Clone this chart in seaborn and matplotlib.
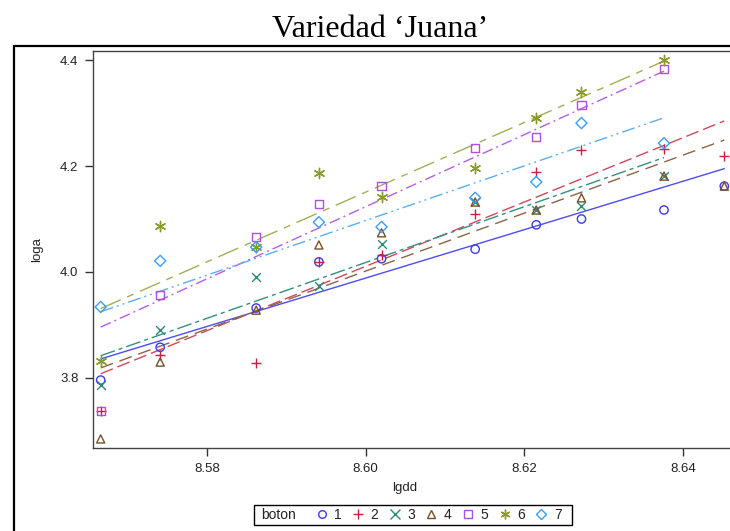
import numpy as np
import pandas as pd
import matplotlib
matplotlib.use("Agg")
import matplotlib.pyplot as plt
from matplotlib.lines import Line2D
from matplotlib.patches import Rectangle
import seaborn as sns

# ---------------- data ----------------
lgdd = [8.5666, 8.5741, 8.5862, 8.5941, 8.6020, 8.6138, 8.6215, 8.6272, 8.6376, 8.6452]
boton_ids = ["1", "2", "3", "4", "5", "6", "7"]
loga_1 = [3.796, 3.858, 3.932, 4.019, 4.025, 4.043, 4.089, 4.100, 4.117, 4.162]
loga_2 = [3.738, 3.843, 3.828, 4.019, 4.032, 4.109, 4.189, 4.230, 4.232, 4.219]
loga_3 = [3.787, 3.891, 3.991, 3.974, 4.053, 4.132, 4.117, 4.125, 4.181, None]
loga_4 = [3.685, 3.830, 3.928, 4.051, 4.074, 4.132, 4.117, 4.140, 4.181, 4.162]
loga_5 = [3.738, 3.957, 4.066, 4.128, 4.162, 4.234, 4.255, 4.315, 4.383, None]
loga_6 = [3.832, 4.087, 4.047, 4.187, 4.142, 4.196, 4.291, 4.340, 4.400, None]
loga_7 = [3.934, 4.021, 4.047, 4.094, 4.085, 4.140, 4.170, 4.281, 4.243, None]
series = [loga_1, loga_2, loga_3, loga_4, loga_5, loga_6, loga_7]

# fitted model lines at first / last lgdd of each boton
fit_x_start = [8.5666, 8.5666, 8.5666, 8.5666, 8.5666, 8.5666, 8.5666]
fit_x_end   = [8.6452, 8.6452, 8.6376, 8.6452, 8.6376, 8.6376, 8.6376]
fit_y_start = [3.836, 3.808, 3.842, 3.819, 3.896, 3.931, 3.925]
fit_y_end   = [4.195, 4.285, 4.216, 4.249, 4.379, 4.398, 4.291]

x_ticks = [8.58, 8.60, 8.62, 8.64]
y_ticks = [3.8, 4.0, 4.2, 4.4]

rows = []
for b, vals in zip(boton_ids, series):
    for xv, yv in zip(lgdd, vals):
        if yv is not None:
            rows.append({"boton": b, "lgdd": xv, "loga": yv})
df = pd.DataFrame(rows)

fit_rows = []
for b, x0, x1, y0, y1 in zip(boton_ids, fit_x_start, fit_x_end, fit_y_start, fit_y_end):
    fit_rows.append({"boton": b, "lgdd": x0, "loga": y0})
    fit_rows.append({"boton": b, "lgdd": x1, "loga": y1})
fit_df = pd.DataFrame(fit_rows)

# ---------------- style ----------------
sns.set_style("white")
plt.rcParams["font.family"] = ["Liberation Sans", "DejaVu Sans"]

marker_col = {"1": "#3b3be6", "2": "#cc1f3f", "3": "#2a8a7a", "4": "#7a4f28",
              "5": "#ad4ee6", "6": "#8a9a2a", "7": "#3a9ef0"}
line_col = {"1": "#4d4df0", "2": "#d04858", "3": "#33907f", "4": "#8a6545",
            "5": "#b35ee6", "6": "#a3ae55", "7": "#5aaef0"}
markers = {"1": "o", "2": "+", "3": "x", "4": "^", "5": "s", "6": (6, 2, 0), "7": "D"}
filled = {"1": True, "2": False, "3": False, "4": True, "5": True, "6": False, "7": True}
msize = {"1": 36, "2": 55, "3": 40, "4": 34, "5": 36, "6": 55, "7": 32}
dashes = {"1": "-",
          "2": (0, (9.4, 3.6)),
          "3": (0, (10.8, 2.9, 2.9, 2.9)),
          "4": (0, (9.4, 5.0)),
          "5": (0, (7.9, 2.9, 1.4, 2.9)),
          "6": (0, (15.8, 5.0, 5.0, 5.0)),
          "7": (0, (9.4, 2.9, 1.4, 2.9, 1.4, 2.9))}

fig = plt.figure(figsize=(7.30, 5.31), dpi=100)
ax = fig.add_axes([93 / 730, 83 / 531, 642 / 730, 397 / 531])

for b in boton_ids:
    sub = fit_df[fit_df["boton"] == b]
    sns.lineplot(data=sub, x="lgdd", y="loga", color=line_col[b], lw=1.0,
                 linestyle=dashes[b], ax=ax, zorder=2)
for b in boton_ids:
    sub = df[df["boton"] == b]
    if filled[b]:
        sns.scatterplot(data=sub, x="lgdd", y="loga", marker=markers[b], s=msize[b],
                        facecolor="none", edgecolor=marker_col[b], linewidth=1.0, ax=ax, zorder=3)
    else:
        sns.scatterplot(data=sub, x="lgdd", y="loga", marker=markers[b], s=msize[b],
                        color=marker_col[b], linewidth=1.0, ax=ax, zorder=3)

ax.set_xlim(8.56563, 8.64655)
ax.set_ylim(3.6679, 4.417)
ax.set_xticks(x_ticks)
ax.set_xticklabels([f"{v:.2f}" for v in x_ticks])
ax.set_yticks(y_ticks)
ax.set_yticklabels([f"{v:.1f}" for v in y_ticks])
ax.tick_params(direction="out", length=6, width=1, color="#333333", pad=4.5,
               labelsize=9.5, labelcolor="#222222", left=True, bottom=True)
for s in ax.spines.values():
    s.set_color("#444444")
    s.set_linewidth(1.0)
ax.set_xlabel("lgdd", fontsize=9.5, color="#222222")
ax.set_ylabel("loga", fontsize=9.5, color="#222222")
ax.xaxis.set_label_coords((405 - 93) / 642, -0.085)
ax.yaxis.set_label_coords(-0.077, 0.5)

# outer frame
fig.patches.append(Rectangle((14 / 730, -0.05), 1.2, (531 - 46) / 531 + 0.05,
                             transform=fig.transFigure, fill=False, edgecolor="black",
                             linewidth=1.6, zorder=0))

# title
fig.text(380 / 730, (531 - 37) / 531, "Variedad \u2018Juana\u2019", ha="center", va="baseline",
         fontsize=23, family=["Liberation Serif", "DejaVu Serif"], color="black")

# legend
fig.patches.append(Rectangle((254 / 730, 6 / 531), 318 / 730, 20 / 531,
                             transform=fig.transFigure, fill=False, edgecolor="black",
                             linewidth=1.0))
fig.text(261 / 730, 16 / 531, "boton", ha="left", va="center", fontsize=10, color="#222222")
handles = []
for b in boton_ids:
    if filled[b]:
        h = Line2D([], [], linestyle="none", marker=markers[b], markersize=5.5,
                   markerfacecolor="none", markeredgecolor=marker_col[b], markeredgewidth=1.0)
    else:
        h = Line2D([], [], linestyle="none", marker=markers[b], markersize=7,
                   color=marker_col[b], markeredgewidth=1.0)
    handles.append(h)
fig.legend(handles, boton_ids, ncol=7, loc="center left",
           bbox_to_anchor=(316 / 730, 16 / 531), frameon=False, fontsize=10,
           handlelength=0.8, handletextpad=0.5, columnspacing=0.78,
           borderpad=0, borderaxespad=0, labelcolor="#222222")

fig.savefig("out.png", dpi=100)
